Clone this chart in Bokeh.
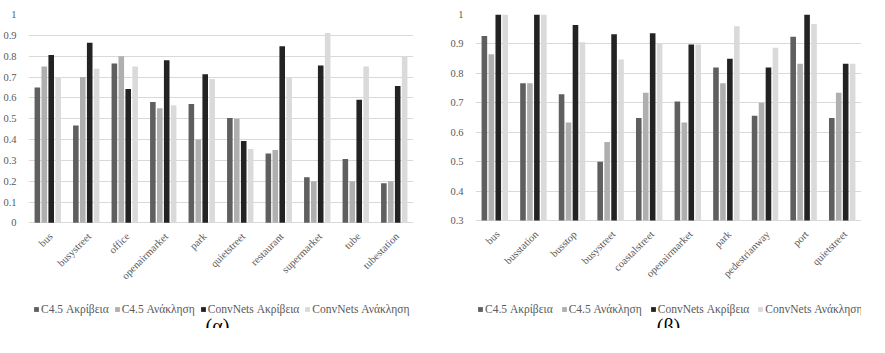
from math import pi
from bokeh.plotting import figure
from bokeh.models import (ColumnDataSource, Legend, LegendItem, Label,
                          CustomJSTickFormatter, FixedTicker, Range1d)
from bokeh.layouts import row
from bokeh.transform import dodge
from bokeh.core.properties import value
from bokeh.embed import file_html
from bokeh.resources import INLINE

series = ["C4.5 Ακρίβεια", "C4.5 Ανάκληση", "ConvNets Ακρίβεια", "ConvNets Ανάκληση"]
colors = ["#5f5f5f", "#afafaf", "#232323", "#dadada"]

cats_a = ["bus", "busystreet", "office", "openairmarket", "park",
          "quietstreet", "restaurant", "supermarket", "tube", "tubestation"]
c45_acc_a = [0.65, 0.467, 0.765, 0.58, 0.57, 0.503, 0.333, 0.219, 0.307, 0.19]
c45_rec_a = [0.75, 0.70, 0.80, 0.55, 0.40, 0.50, 0.35, 0.20, 0.20, 0.20]
conv_acc_a = [0.806, 0.864, 0.643, 0.781, 0.713, 0.393, 0.848, 0.755, 0.591, 0.657]
conv_rec_a = [0.70, 0.74, 0.75, 0.564, 0.69, 0.354, 0.70, 0.911, 0.75, 0.80]
yticks_a = [0, 0.1, 0.2, 0.3, 0.4, 0.5, 0.6, 0.7, 0.8, 0.9, 1.0]

cats_b = ["bus", "busstation", "busstop", "busystreet", "coastalstreet",
          "openairmarket", "park", "pedestrianway", "port", "quietstreet"]
c45_acc_b = [0.927, 0.766, 0.729, 0.50, 0.648, 0.704, 0.82, 0.656, 0.924, 0.648]
c45_rec_b = [0.865, 0.766, 0.633, 0.567, 0.734, 0.633, 0.766, 0.70, 0.833, 0.734]
conv_acc_b = [1.0, 1.0, 0.964, 0.933, 0.936, 0.898, 0.85, 0.82, 1.0, 0.833]
conv_rec_b = [1.0, 1.0, 0.906, 0.847, 0.902, 0.898, 0.96, 0.887, 0.968, 0.833]
yticks_b = [0.3, 0.4, 0.5, 0.6, 0.7, 0.8, 0.9, 1.0]

FONT = "'Liberation Serif', 'Times New Roman', 'DejaVu Serif', serif"
FONT_V = value(FONT)
GRAY_TXT = "#595959"
GRID = "#d9d9d9"


def make_chart(cats, vals, yticks, caption, width, height, bl, br, bt,
               plot_px, below_px, leg_x, leg_spacing, cap_x):
    y0, y1 = yticks[0], yticks[-1]
    per_px = (y1 - y0) / plot_px          # data units per pixel
    y_start = y0 - below_px * per_px      # frame continues below the baseline
    p = figure(x_range=cats, y_range=Range1d(y_start, y1),
               width=width, height=height, output_backend="svg",
               toolbar_location=None, min_border_left=bl, min_border_right=br,
               min_border_top=bt, min_border_bottom=0)
    src = ColumnDataSource(dict(cats=cats, s0=vals[0], s1=vals[1], s2=vals[2], s3=vals[3]))
    offs = [-0.27, -0.09, 0.09, 0.27]
    items = []
    for i in range(4):
        r = p.vbar(x=dodge("cats", offs[i], range=p.x_range), top="s%d" % i,
                   bottom=y0, width=0.145, source=src,
                   fill_color=colors[i], line_color=None)
        items.append(LegendItem(label=series[i], renderers=[r]))
    # category labels, rotated 45 degrees, ending under each group
    p.text(x=dodge("cats", 0.08, range=p.x_range), y=y0 - 12 * per_px, text="cats",
           source=src, angle=pi / 4, text_align="right", text_baseline="middle",
           text_font=FONT_V, text_font_size="10.5px", text_color=GRAY_TXT)
    p.outline_line_color = None
    p.background_fill_color = None
    p.xaxis.visible = False
    p.xgrid.grid_line_color = None
    p.ygrid.grid_line_color = GRID
    p.ygrid.ticker = FixedTicker(ticks=yticks)
    p.yaxis.ticker = FixedTicker(ticks=yticks)
    p.yaxis.formatter = CustomJSTickFormatter(code="return Number(tick.toFixed(1)).toString();")
    p.yaxis.axis_line_color = None
    p.yaxis.major_tick_line_color = None
    p.yaxis.minor_tick_line_color = None
    p.yaxis.major_label_standoff = 6
    p.yaxis.major_label_text_font = FONT
    p.yaxis.major_label_text_font_size = "10.5px"
    p.yaxis.major_label_text_color = GRAY_TXT
    leg = Legend(items=items, orientation="horizontal", location=(leg_x, 12),
                 label_text_font=FONT, label_text_font_size="11.5px",
                 label_text_color=GRAY_TXT, glyph_width=6, glyph_height=6,
                 label_height=14, label_standoff=2, spacing=leg_spacing,
                 padding=0, margin=0,
                 border_line_color=None, background_fill_alpha=0)
    p.add_layout(leg)
    p.add_layout(Label(x=cap_x, y=3, x_units="screen", y_units="screen",
                       text=caption, text_font=FONT, text_font_size="20px",
                       text_color="#000000", text_align="center",
                       text_baseline="middle"))
    return p


pa = make_chart(cats_a, [c45_acc_a, c45_rec_a, conv_acc_a, conv_rec_a], yticks_a,
                "(α)", 430, 328, 18, 17, 7, 213, 108, 5, 5, 189)
pb = make_chart(cats_b, [c45_acc_b, c45_rec_b, conv_acc_b, conv_rec_b], yticks_b,
                "(β)", 432, 328, 45, 1, 14, 206, 108, 2, 8, 193)

layout = row(pa, pb)
open("out.html", "w").write(file_html(layout, INLINE))
